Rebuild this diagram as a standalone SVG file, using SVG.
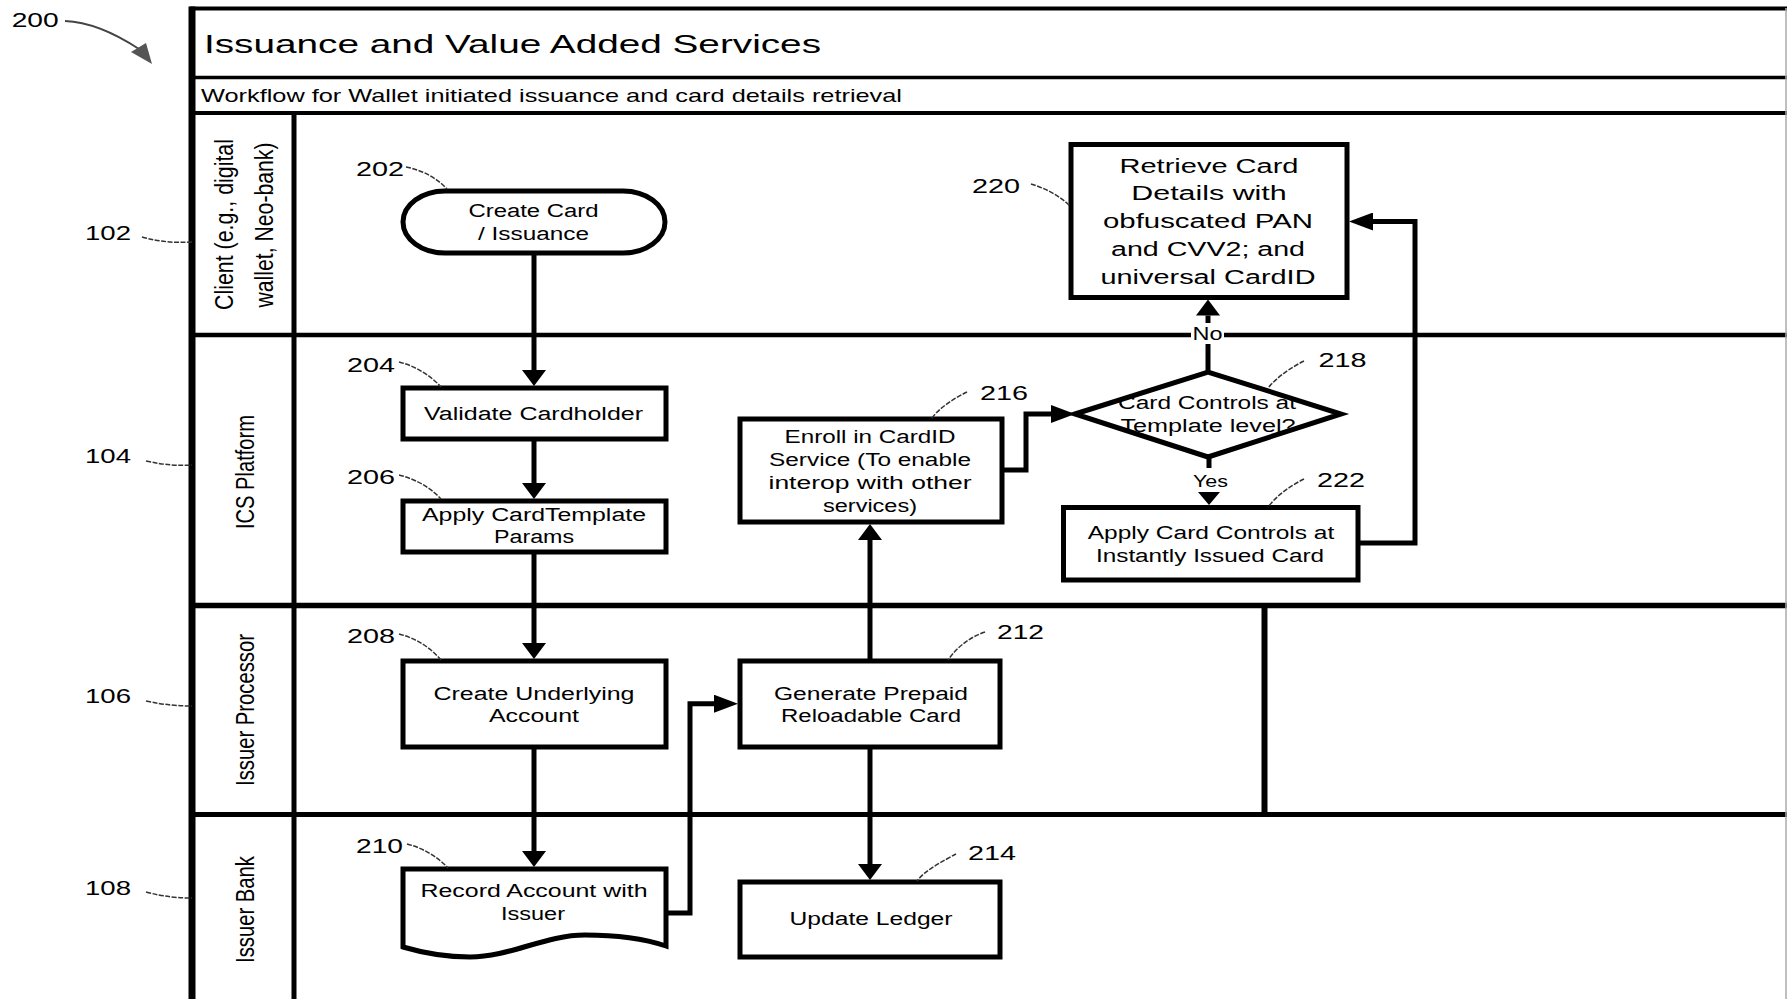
<svg xmlns="http://www.w3.org/2000/svg" width="1787" height="999" viewBox="0 0 1787 999">
<style>
.t{font-family:"Liberation Sans",Arial,sans-serif;fill:#000}
.nt{font-size:18px;text-anchor:middle}
.big{font-size:20px;text-anchor:middle}
.num{font-size:20px}
.lane{font-size:26px;text-anchor:middle}
.box{fill:#fff;stroke:#000;stroke-width:5}
.ln{stroke:#000;fill:none}
.con{stroke:#000;stroke-width:5;fill:none}
.ld{stroke:#333;stroke-width:1.5;fill:none;stroke-dasharray:5 1.5}
</style>
<defs>
<marker id="ahv" markerUnits="userSpaceOnUse" viewBox="0 0 16 24" markerWidth="16" markerHeight="24" refX="0" refY="12" orient="auto"><path d="M0,0 L16,12 L0,24 z" fill="#000"/></marker>
<marker id="ahs" markerUnits="userSpaceOnUse" viewBox="0 0 13 22" markerWidth="13" markerHeight="22" refX="0" refY="11" orient="auto"><path d="M0,0 L13,11 L0,22 z" fill="#000"/></marker>
<marker id="ahh" markerUnits="userSpaceOnUse" viewBox="0 0 24 18" markerWidth="24" markerHeight="18" refX="0" refY="9" orient="auto"><path d="M0,0 L24,9 L0,18 z" fill="#000"/></marker>
</defs>
<rect width="1787" height="999" fill="#fff"/>

<g id="frame">
<line class="ln" x1="190" y1="8.5" x2="1787" y2="8.5" stroke-width="4"/>
<line class="ln" x1="190" y1="77.5" x2="1787" y2="77.5" stroke-width="3.5"/>
<line class="ln" x1="190" y1="113" x2="1787" y2="113" stroke-width="4"/>
<line class="ln" x1="190" y1="335" x2="1787" y2="335" stroke-width="4.5"/>
<line class="ln" x1="190" y1="605.5" x2="1787" y2="605.5" stroke-width="5.5"/>
<line class="ln" x1="190" y1="814.5" x2="1787" y2="814.5" stroke-width="5"/>
<line class="ln" x1="192" y1="6.5" x2="192" y2="999" stroke-width="7"/>
<line class="ln" x1="294" y1="113" x2="294" y2="999" stroke-width="5"/>
<line class="ln" x1="1264.5" y1="605" x2="1264.5" y2="815" stroke-width="6"/>
<line x1="1786" y1="8" x2="1786" y2="999" stroke="#aaa" stroke-width="1.5"/>
<text class="t" x="204" y="53" font-size="25" textLength="617" lengthAdjust="spacingAndGlyphs">Issuance and Value Added Services</text>
<text class="t" x="201" y="102" font-size="19" textLength="701" lengthAdjust="spacingAndGlyphs">Workflow for Wallet initiated issuance and card details retrieval</text>
</g>

<g id="lane-labels">
<text class="t lane" transform="translate(233,224.5) rotate(-90)" textLength="171" lengthAdjust="spacingAndGlyphs">Client (e.g., digital</text>
<text class="t lane" transform="translate(273,225) rotate(-90)" textLength="165" lengthAdjust="spacingAndGlyphs">wallet, Neo-bank)</text>
<text class="t lane" transform="translate(253.5,472) rotate(-90)" textLength="114" lengthAdjust="spacingAndGlyphs">ICS Platform</text>
<text class="t lane" transform="translate(253.5,710) rotate(-90)" textLength="152" lengthAdjust="spacingAndGlyphs">Issuer Processor</text>
<text class="t lane" transform="translate(253.5,909.5) rotate(-90)" textLength="107" lengthAdjust="spacingAndGlyphs">Issuer Bank</text>
</g>

<g id="refs">
<path d="M65,21 C90,22 113,32 139,49" stroke="#444" stroke-width="1.8" fill="none"/>
<polygon points="152,64 131,52 146,43" fill="#555"/>
<text class="t num" x="11.7" y="26.5" textLength="47" lengthAdjust="spacingAndGlyphs">200</text>
<text class="t num" x="85" y="240" textLength="46" lengthAdjust="spacingAndGlyphs">102</text>
<text class="t num" x="85" y="463" textLength="46" lengthAdjust="spacingAndGlyphs">104</text>
<text class="t num" x="85" y="703" textLength="46" lengthAdjust="spacingAndGlyphs">106</text>
<text class="t num" x="85" y="895" textLength="46" lengthAdjust="spacingAndGlyphs">108</text>
<path class="ld" d="M142,237 C160,242 175,243 192,242"/>
<path class="ld" d="M146,461 C165,465 178,466 192,465"/>
<path class="ld" d="M146,701 C165,705 178,706 192,706"/>
<path class="ld" d="M146,892 C165,897 178,898 192,898"/>
</g>

<g id="connectors">
<path class="con" d="M534,254 V370" marker-end="url(#ahv)"/>
<path class="con" d="M534,440 V483" marker-end="url(#ahv)"/>
<path class="con" d="M534,553 V643" marker-end="url(#ahv)"/>
<path class="con" d="M534,748 V851" marker-end="url(#ahv)"/>
<path class="con" d="M666,913 H690 V703.7 H714" marker-end="url(#ahh)"/>
<path class="con" d="M870,659 V540" marker-end="url(#ahv)"/>
<path class="con" d="M870,748 V864" marker-end="url(#ahv)"/>
<path class="con" d="M1002,470 H1026 V414 H1051" marker-end="url(#ahh)"/>
<path class="con" d="M1358,543 H1415 V221.5 H1373" marker-end="url(#ahh)"/>
<path class="con" d="M1208,372 V315.5" marker-end="url(#ahv)"/>
<path class="con" d="M1209,457 V492" marker-end="url(#ahs)"/>
<rect x="1191" y="323" width="33" height="21" fill="#fff"/>
<text class="t" x="1207.5" y="340" font-size="18" text-anchor="middle" textLength="30" lengthAdjust="spacingAndGlyphs">No</text>
<rect x="1190" y="468" width="40" height="24" fill="#fff"/>
<text class="t" x="1210.5" y="487" font-size="17" text-anchor="middle" textLength="35" lengthAdjust="spacingAndGlyphs">Yes</text>
</g>

<g id="n202">
<rect class="box" x="403" y="191" width="262" height="62" rx="42" ry="31"/>
<text class="t nt" x="533.5" y="216.5" textLength="130" lengthAdjust="spacingAndGlyphs">Create Card</text>
<text class="t nt" x="533.5" y="240" textLength="111" lengthAdjust="spacingAndGlyphs">/ Issuance</text>
<text class="t num" x="356" y="176" textLength="48" lengthAdjust="spacingAndGlyphs">202</text>
<path class="ld" d="M406,167 C422,170 437,178 447,189"/>
</g>

<g id="n204">
<rect class="box" x="403" y="388" width="263" height="51"/>
<text class="t nt" x="533.5" y="420" textLength="219" lengthAdjust="spacingAndGlyphs">Validate Cardholder</text>
<text class="t num" x="347" y="372" textLength="48" lengthAdjust="spacingAndGlyphs">204</text>
<path class="ld" d="M399,362 C415,366 430,375 441,387"/>
</g>

<g id="n206">
<rect class="box" x="403" y="501" width="263" height="51"/>
<text class="t nt" x="534" y="520.5" textLength="224" lengthAdjust="spacingAndGlyphs">Apply CardTemplate</text>
<text class="t nt" x="534" y="543" textLength="80" lengthAdjust="spacingAndGlyphs">Params</text>
<text class="t num" x="347" y="484" textLength="48" lengthAdjust="spacingAndGlyphs">206</text>
<path class="ld" d="M399,475 C415,479 430,487 441,499"/>
</g>

<g id="n208">
<rect class="box" x="403" y="661" width="263" height="86"/>
<text class="t nt" x="534" y="700" textLength="201" lengthAdjust="spacingAndGlyphs">Create Underlying</text>
<text class="t nt" x="534" y="722" textLength="90" lengthAdjust="spacingAndGlyphs">Account</text>
<text class="t num" x="347" y="643" textLength="48" lengthAdjust="spacingAndGlyphs">208</text>
<path class="ld" d="M399,634 C415,638 430,647 441,660"/>
</g>

<g id="n210">
<path class="box" d="M403,869 H666 V946 C645,939 615,935 585,935 C545,935 510,957 470,957 C445,957 420,952 403,947 Z"/>
<text class="t nt" x="534" y="897" textLength="227" lengthAdjust="spacingAndGlyphs">Record Account with</text>
<text class="t nt" x="533" y="920" textLength="64" lengthAdjust="spacingAndGlyphs">Issuer</text>
<text class="t num" x="356" y="853" textLength="47" lengthAdjust="spacingAndGlyphs">210</text>
<path class="ld" d="M407,844 C423,848 438,857 448,868"/>
</g>

<g id="n212">
<rect class="box" x="740" y="661" width="260" height="86"/>
<text class="t nt" x="871" y="700" textLength="194" lengthAdjust="spacingAndGlyphs">Generate Prepaid</text>
<text class="t nt" x="871" y="722" textLength="180" lengthAdjust="spacingAndGlyphs">Reloadable Card</text>
<text class="t num" x="997" y="639" textLength="47" lengthAdjust="spacingAndGlyphs">212</text>
<path class="ld" d="M985,632 C970,637 957,647 948,660"/>
</g>

<g id="n214">
<rect class="box" x="740" y="882" width="260" height="75"/>
<text class="t nt" x="871" y="925" textLength="163" lengthAdjust="spacingAndGlyphs">Update Ledger</text>
<text class="t num" x="968" y="860" textLength="48" lengthAdjust="spacingAndGlyphs">214</text>
<path class="ld" d="M956,854 C945,860 925,870 917,881"/>
</g>

<g id="n216">
<rect class="box" x="740" y="419" width="262" height="103"/>
<text class="t nt" x="870" y="443" textLength="171" lengthAdjust="spacingAndGlyphs">Enroll in CardID</text>
<text class="t nt" x="870" y="466" textLength="202" lengthAdjust="spacingAndGlyphs">Service (To enable</text>
<text class="t nt" x="870" y="489" textLength="203" lengthAdjust="spacingAndGlyphs">interop with other</text>
<text class="t nt" x="870" y="512" textLength="94" lengthAdjust="spacingAndGlyphs">services)</text>
<text class="t num" x="980" y="400" textLength="48" lengthAdjust="spacingAndGlyphs">216</text>
<path class="ld" d="M967,392 C955,398 940,407 931,419"/>
</g>

<g id="n218">
<polygon class="box" points="1075,414 1208,372 1341,414 1208,457"/>
<text class="t nt" x="1207" y="409" textLength="178" lengthAdjust="spacingAndGlyphs">Card Controls at</text>
<text class="t nt" x="1208" y="432" textLength="175" lengthAdjust="spacingAndGlyphs">Template level?</text>
<text class="t num" x="1318.5" y="367" textLength="48" lengthAdjust="spacingAndGlyphs">218</text>
<path class="ld" d="M1304,361 C1292,367 1278,376 1268,388"/>
</g>

<g id="n220">
<rect class="box" x="1071" y="144.5" width="276" height="153"/>
<text class="t big" x="1209" y="172.7" textLength="179" lengthAdjust="spacingAndGlyphs">Retrieve Card</text>
<text class="t big" x="1209" y="200" textLength="155.5" lengthAdjust="spacingAndGlyphs">Details with</text>
<text class="t big" x="1208" y="228" textLength="210" lengthAdjust="spacingAndGlyphs">obfuscated PAN</text>
<text class="t big" x="1208" y="256" textLength="194" lengthAdjust="spacingAndGlyphs">and CVV2; and</text>
<text class="t big" x="1208" y="284" textLength="215" lengthAdjust="spacingAndGlyphs">universal CardID</text>
<text class="t num" x="972" y="193" textLength="48" lengthAdjust="spacingAndGlyphs">220</text>
<path class="ld" d="M1031,184 C1045,188 1060,196 1070,206"/>
</g>

<g id="n222">
<rect class="box" x="1063.5" y="507.5" width="294.5" height="72.5"/>
<text class="t nt" x="1211" y="539" textLength="246.6" lengthAdjust="spacingAndGlyphs">Apply Card Controls at</text>
<text class="t nt" x="1210" y="562" textLength="228" lengthAdjust="spacingAndGlyphs">Instantly Issued Card</text>
<text class="t num" x="1317" y="487" textLength="48" lengthAdjust="spacingAndGlyphs">222</text>
<path class="ld" d="M1304,479 C1292,485 1278,494 1268,507"/>
</g>
</svg>
